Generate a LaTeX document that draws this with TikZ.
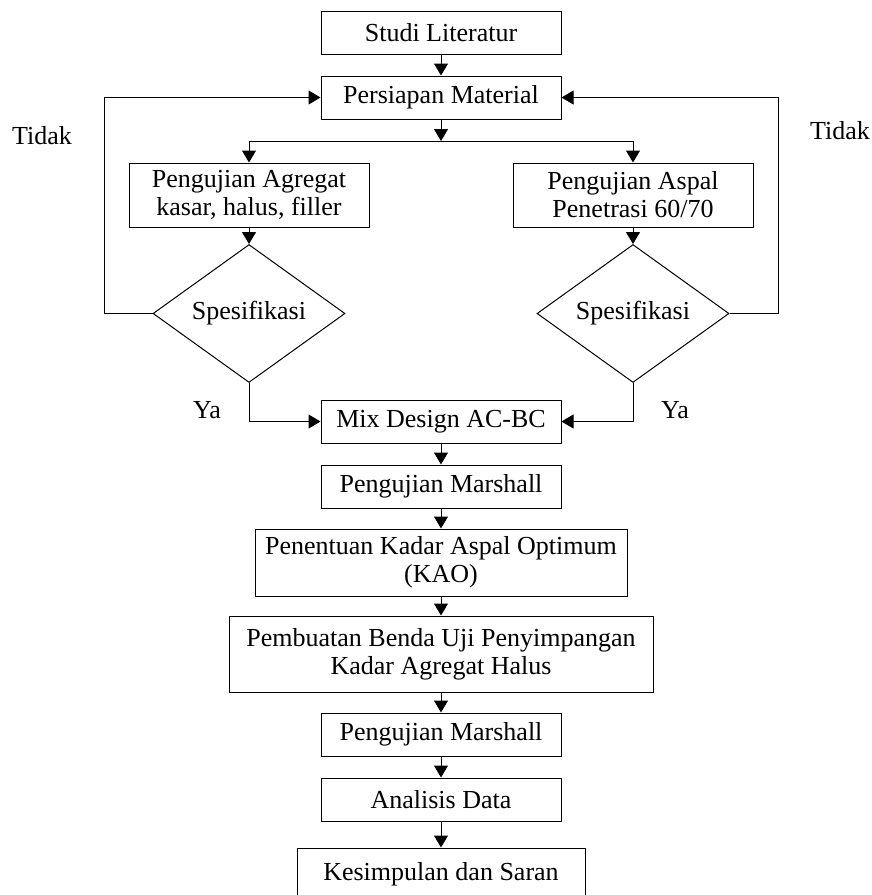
\documentclass[tikz,border=0pt]{standalone}
\usepackage{fontspec}
\setmainfont{Liberation Serif}
\usetikzlibrary{shapes.geometric, arrows.meta}

\begin{document}
\begin{tikzpicture}[x=0.5pt, y=-0.5pt, line width=0.5pt, font=\fontsize{13}{14}\selectfont]
\tikzstyle{step box}=[rectangle, draw=black, align=center, inner sep=0pt, minimum width=120pt, minimum height=21.5pt]
\tikzstyle{test box}=[step box, minimum height=32pt]
\tikzstyle{check}=[diamond, draw=black, inner sep=0pt, minimum width=96pt, minimum height=64.5pt]
\tikzstyle{side text}=[inner sep=0pt]
\tikzstyle{flow}=[-{Triangle[length=6pt, width=7pt]}]

\useasboundingbox (0,0) rectangle (872,895);

% Draw the top of the column
\node[step box] (studi) at (441, 32.5) {Studi Literatur};
\node[step box] (persiapan) at (441, 97.5) {Persiapan Material};
\coordinate (split) at (441, 141);

% Draw the two test branches
\node[test box] (agregat) at (249, 195) {Pengujian Agregat\\kasar, halus, filler};
\node[test box] (aspal) at (633, 195) {Pengujian Aspal\\Penetrasi 60/70};
\node[check] (spec1) at (249, 313.5) {Spesifikasi};
\node[check] (spec2) at (633, 313.5) {Spesifikasi};

% Draw the bottom of the column
\node[step box] (mix) at (441, 421.5) {Mix Design AC-BC};
\node[step box] (marshall1) at (441, 486.5) {Pengujian Marshall};
\node[step box, minimum width=186pt, minimum height=33.5pt] (kao) at (441, 562.5) {Penentuan Kadar Aspal Optimum\\(KAO)};
\node[step box, minimum width=212pt, minimum height=38pt] (benda) at (441, 654) {Pembuatan Benda Uji Penyimpangan\\Kadar Agregat Halus};
\node[step box] (marshall2) at (441, 734.5) {Pengujian Marshall};
\node[step box] (analisis) at (441, 799.5) {Analisis Data};
\node[step box, minimum width=144pt, minimum height=26pt] (kesimpulan) at (441, 874) {Kesimpulan dan Saran};

% Labels
\node[side text] (tidak1) at (42, 136) {Tidak};
\node[side text] (tidak2) at (840, 131) {Tidak};
\node[side text] (ya1) at (207, 410) {Ya};
\node[side text] (ya2) at (675, 410) {Ya};

% Draw the arrows
\draw[flow] (studi) -- (persiapan);
\draw[flow] (persiapan) -- (split);
\draw[flow] (split) -| (agregat);
\draw[flow] (split) -| (aspal);
\draw[flow] (agregat) -- (spec1);
\draw[flow] (aspal) -- (spec2);
\draw[flow] (spec1.west) -- ++(-48, 0) |- (persiapan.west);
\draw[flow] (spec2.east) -- ++(49, 0) |- (persiapan.east);
\draw[flow] (spec1.south) |- (mix.west);
\draw[flow] (spec2.south) |- (mix.east);

\foreach \a/\b in {mix/marshall1, marshall1/kao, kao/benda, benda/marshall2, marshall2/analisis, analisis/kesimpulan}
    \draw[flow] (\a) -- (\b);

\end{tikzpicture}
\end{document}
